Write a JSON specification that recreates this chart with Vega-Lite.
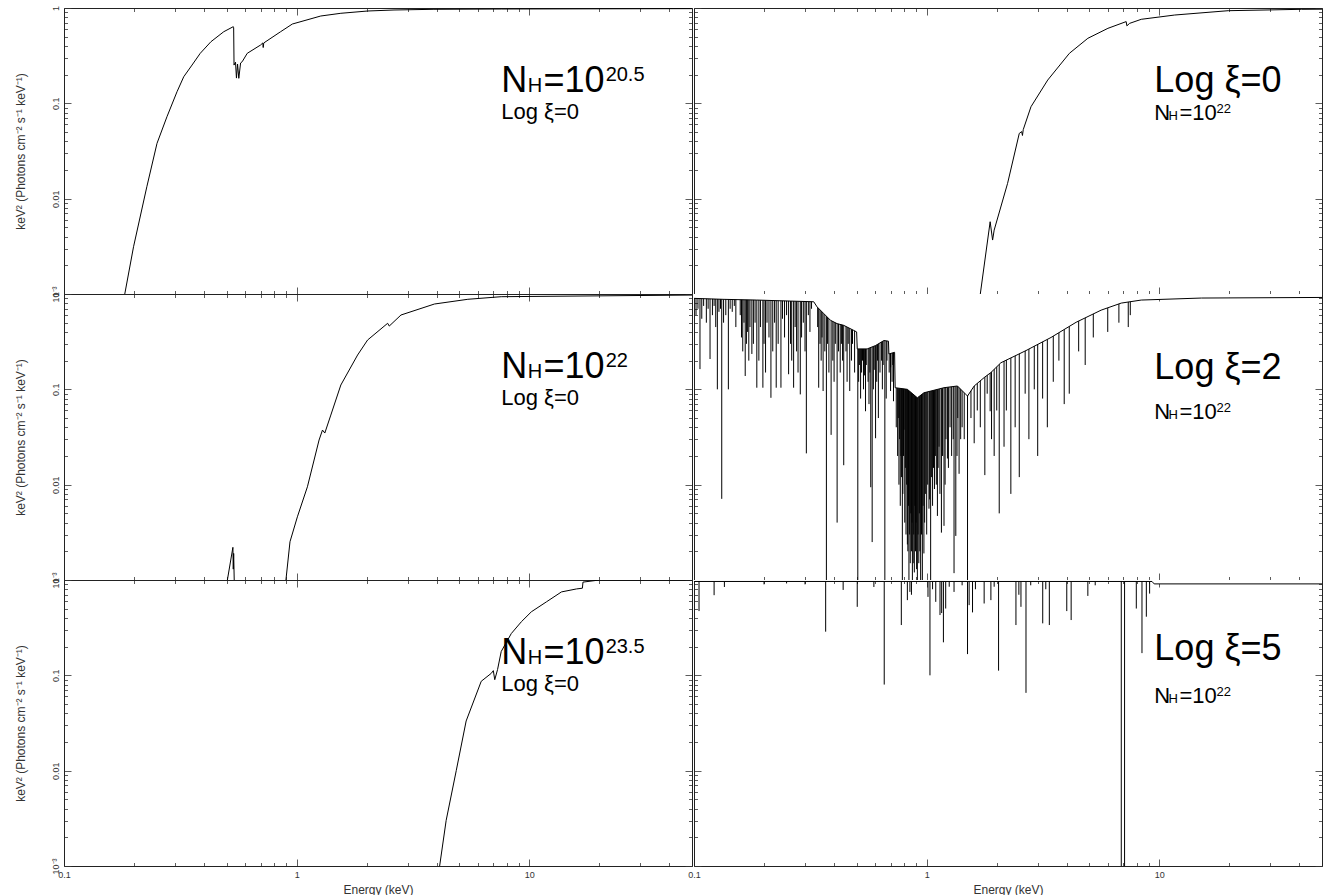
{
  "$schema": "https://vega.github.io/schema/vega-lite/v6.json",
  "padding": {"left": 14, "top": 5, "right": 2, "bottom": 0},
  "background": "white",
  "columns": 2,
  "spacing": {"row": 0, "column": 2},
  "bounds": "flush",
  "datasets": {
    "curves": [
      {"p":"A","E":0.181,"F":0.0009},{"p":"A","E":0.199,"F":0.00313},{"p":"A","E":0.227,"F":0.01334},{"p":"A","E":0.251,"F":0.038},
      {"p":"A","E":0.277,"F":0.0724},{"p":"A","E":0.306,"F":0.1324},{"p":"A","E":0.327,"F":0.19},{"p":"A","E":0.355,"F":0.252},
      {"p":"A","E":0.385,"F":0.3346},{"p":"A","E":0.428,"F":0.443},{"p":"A","E":0.486,"F":0.564},{"p":"A","E":0.534,"F":0.637},
      {"p":"A","E":0.536,"F":0.62},{"p":"A","E":0.538,"F":0.252},{"p":"A","E":0.546,"F":0.27},{"p":"A","E":0.551,"F":0.184},
      {"p":"A","E":0.557,"F":0.258},{"p":"A","E":0.564,"F":0.183},{"p":"A","E":0.574,"F":0.265},{"p":"A","E":0.583,"F":0.273},
      {"p":"A","E":0.613,"F":0.3346},{"p":"A","E":0.6995,"F":0.409},{"p":"A","E":0.715,"F":0.43},{"p":"A","E":0.718,"F":0.385},
      {"p":"A","E":0.722,"F":0.43},{"p":"A","E":0.853,"F":0.564},{"p":"A","E":0.958,"F":0.679},{"p":"A","E":1.269,"F":0.824},
      {"p":"A","E":1.548,"F":0.88},{"p":"A","E":2.018,"F":0.93},{"p":"A","E":2.62,"F":0.953},{"p":"A","E":3.89,"F":0.969},
      {"p":"A","E":7.57,"F":0.976},{"p":"A","E":50,"F":0.985},

      {"p":"B","E":1.69,"F":0.0009},{"p":"B","E":1.874,"F":0.00573},{"p":"B","E":1.92,"F":0.00368},{"p":"B","E":1.95,"F":0.00468},
      {"p":"B","E":2.227,"F":0.01447},{"p":"B","E":2.5,"F":0.0484},{"p":"B","E":2.56,"F":0.0505},{"p":"B","E":2.58,"F":0.046},
      {"p":"B","E":2.6,"F":0.053},{"p":"B","E":2.807,"F":0.0921},{"p":"B","E":3.313,"F":0.1755},{"p":"B","E":4.105,"F":0.3346},
      {"p":"B","E":4.928,"F":0.481},{"p":"B","E":6.01,"F":0.612},{"p":"B","E":7.2,"F":0.72},{"p":"B","E":7.25,"F":0.65},
      {"p":"B","E":7.45,"F":0.69},{"p":"B","E":8.36,"F":0.761},{"p":"B","E":11.64,"F":0.844},{"p":"B","E":19.77,"F":0.937},
      {"p":"B","E":40.9,"F":0.969},{"p":"B","E":50,"F":0.972},

      {"p":"C","E":0.5,"F":0.0009},{"p":"C","E":0.532,"F":0.0022},{"p":"C","E":0.534,"F":0.0013},{"p":"C","E":0.536,"F":0.0019},
      {"p":"C","E":0.54,"F":0.0008},{"p":"C","E":0.895,"F":0.0009},{"p":"C","E":0.936,"F":0.00252},{"p":"C","E":1.007,"F":0.0046},
      {"p":"C","E":1.112,"F":0.0095},{"p":"C","E":1.248,"F":0.0294},{"p":"C","E":1.291,"F":0.0374},{"p":"C","E":1.321,"F":0.0348},
      {"p":"C","E":1.402,"F":0.0537},{"p":"C","E":1.548,"F":0.111},{"p":"C","E":1.827,"F":0.229},{"p":"C","E":2.017,"F":0.329},
      {"p":"C","E":2.46,"F":0.493},{"p":"C","E":2.5,"F":0.461},{"p":"C","E":2.807,"F":0.602},{"p":"C","E":3.908,"F":0.785},
      {"p":"C","E":5.44,"F":0.88},{"p":"C","E":7.57,"F":0.937},{"p":"C","E":50,"F":0.975},

      {"p":"D","E":0.1,"F":0.9},{"p":"D","E":0.134,"F":0.879},{"p":"D","E":0.186,"F":0.864},{"p":"D","E":0.259,"F":0.843},
      {"p":"D","E":0.327,"F":0.829},{"p":"D","E":0.338,"F":0.733},{"p":"D","E":0.361,"F":0.624},{"p":"D","E":0.386,"F":0.53},
      {"p":"D","E":0.412,"F":0.489},{"p":"D","E":0.44,"F":0.469},{"p":"D","E":0.486,"F":0.415},{"p":"D","E":0.5,"F":0.4},
      {"p":"D","E":0.503,"F":0.2655},{"p":"D","E":0.555,"F":0.2655},{"p":"D","E":0.603,"F":0.288},{"p":"D","E":0.655,"F":0.325},
      {"p":"D","E":0.685,"F":0.32},{"p":"D","E":0.688,"F":0.235},{"p":"D","E":0.728,"F":0.2446},{"p":"D","E":0.732,"F":0.104},
      {"p":"D","E":0.826,"F":0.1},{"p":"D","E":0.912,"F":0.0815},{"p":"D","E":0.973,"F":0.092},{"p":"D","E":1.187,"F":0.104},
      {"p":"D","E":1.356,"F":0.1084},{"p":"D","E":1.498,"F":0.085},{"p":"D","E":1.6,"F":0.1084},{"p":"D","E":1.766,"F":0.1328},
      {"p":"D","E":1.888,"F":0.15},{"p":"D","E":2.084,"F":0.19},{"p":"D","E":2.672,"F":0.255},{"p":"D","E":3.423,"F":0.35},
      {"p":"D","E":4.387,"F":0.505},{"p":"D","E":5.62,"F":0.677},{"p":"D","E":6.86,"F":0.803},{"p":"D","E":8.36,"F":0.864},
      {"p":"D","E":15.17,"F":0.907},{"p":"D","E":50,"F":0.92},

      {"p":"E","E":4.09,"F":0.0009},{"p":"E","E":4.39,"F":0.00301},{"p":"E","E":4.85,"F":0.01},{"p":"E","E":5.35,"F":0.0332},
      {"p":"E","E":6.21,"F":0.0866},{"p":"E","E":6.86,"F":0.105},{"p":"E","E":7.0,"F":0.112},{"p":"E","E":7.1,"F":0.09},
      {"p":"E","E":7.3,"F":0.115},{"p":"E","E":7.57,"F":0.178},{"p":"E","E":8.36,"F":0.274},{"p":"E","E":9.24,"F":0.365},
      {"p":"E","E":10.2,"F":0.464},{"p":"E","E":11.84,"F":0.59},{"p":"E","E":13.74,"F":0.75},{"p":"E","E":15.95,"F":0.806},
      {"p":"E","E":16.9,"F":0.82},{"p":"E","E":17.0,"F":0.95},{"p":"E","E":20.0,"F":1.0},{"p":"E","E":50,"F":1.0},

      {"p":"F","E":0.1,"F":0.965},{"p":"F","E":9.3,"F":0.965},{"p":"F","E":9.5,"F":0.91},{"p":"F","E":50,"F":0.91}
    ],
    "lines": [
      {"p":"D","E":0.1061,"lo":0.163},{"p":"D","E":0.1172,"lo":0.208},{"p":"D","E":0.126,"lo":0.1},{"p":"D","E":0.1316,"lo":0.0071},
      {"p":"D","E":0.1405,"lo":0.1},{"p":"D","E":0.1513,"lo":0.45},{"p":"D","E":0.166,"lo":0.138},{"p":"D","E":0.1773,"lo":0.235},
      {"p":"D","E":0.1862,"lo":0.104},{"p":"D","E":0.1977,"lo":0.104},{"p":"D","E":0.2141,"lo":0.0815},{"p":"D","E":0.2256,"lo":0.104},
      {"p":"D","E":0.2364,"lo":0.104},{"p":"D","E":0.255,"lo":0.144},{"p":"D","E":0.268,"lo":0.104},{"p":"D","E":0.2863,"lo":0.0885},
      {"p":"D","E":0.304,"lo":0.0213},{"p":"D","E":0.3435,"lo":0.104},{"p":"D","E":0.3588,"lo":0.096},{"p":"D","E":0.3707,"lo":0.0004},
      {"p":"D","E":0.3884,"lo":0.0333},{"p":"D","E":0.4122,"lo":0.004},{"p":"D","E":0.44,"lo":0.016},{"p":"D","E":0.467,"lo":0.096},
      {"p":"D","E":0.5058,"lo":0.0004},{"p":"D","E":0.546,"lo":0.0589},{"p":"D","E":0.575,"lo":0.0094},{"p":"D","E":0.583,"lo":0.0025},
      {"p":"D","E":0.603,"lo":0.0307},{"p":"D","E":0.661,"lo":0.0004},{"p":"D","E":0.6995,"lo":0.096},{"p":"D","E":0.72,"lo":0.075},
      {"p":"D","E":0.786,"lo":0.0004},{"p":"D","E":0.799,"lo":0.0377},{"p":"D","E":0.826,"lo":0.00236},{"p":"D","E":0.839,"lo":0.0004},
      {"p":"D","E":0.868,"lo":0.0004},{"p":"D","E":0.912,"lo":0.0004},{"p":"D","E":0.942,"lo":0.0004},{"p":"D","E":0.958,"lo":0.0004},
      {"p":"D","E":0.973,"lo":0.0019},{"p":"D","E":1.023,"lo":0.0056},{"p":"D","E":1.04,"lo":0.0004},{"p":"D","E":1.112,"lo":0.0047},
      {"p":"D","E":1.157,"lo":0.00314},{"p":"D","E":1.187,"lo":0.0037},{"p":"D","E":1.228,"lo":0.0188},{"p":"D","E":1.311,"lo":0.00118},
      {"p":"D","E":1.334,"lo":0.0029},{"p":"D","E":1.378,"lo":0.013},{"p":"D","E":1.498,"lo":0.0004},{"p":"D","E":1.6,"lo":0.0272},
      {"p":"D","E":1.778,"lo":0.0126},{"p":"D","E":1.874,"lo":0.0589},

      {"p":"D","E":0.102,"lo":0.6},{"p":"D","E":0.104,"lo":0.7},{"p":"D","E":0.108,"lo":0.55},{"p":"D","E":0.11,"lo":0.75},
      {"p":"D","E":0.113,"lo":0.5},{"p":"D","E":0.115,"lo":0.7},{"p":"D","E":0.12,"lo":0.6},{"p":"D","E":0.122,"lo":0.75},
      {"p":"D","E":0.124,"lo":0.45},{"p":"D","E":0.128,"lo":0.65},{"p":"D","E":0.13,"lo":0.7},{"p":"D","E":0.134,"lo":0.5},
      {"p":"D","E":0.137,"lo":0.6},{"p":"D","E":0.143,"lo":0.7},{"p":"D","E":0.146,"lo":0.65},{"p":"D","E":0.149,"lo":0.75},
      {"p":"D","E":0.158,"lo":0.6},{"p":"D","E":0.16,"lo":0.35},{"p":"D","E":0.162,"lo":0.25},{"p":"D","E":0.164,"lo":0.5},
      {"p":"D","E":0.168,"lo":0.3},{"p":"D","E":0.17,"lo":0.4},{"p":"D","E":0.172,"lo":0.2},{"p":"D","E":0.174,"lo":0.45},
      {"p":"D","E":0.18,"lo":0.3},{"p":"D","E":0.183,"lo":0.5},{"p":"D","E":0.19,"lo":0.2},{"p":"D","E":0.193,"lo":0.45},
      {"p":"D","E":0.2,"lo":0.3},{"p":"D","E":0.203,"lo":0.15},{"p":"D","E":0.206,"lo":0.5},{"p":"D","E":0.21,"lo":0.35},
      {"p":"D","E":0.218,"lo":0.25},{"p":"D","E":0.222,"lo":0.5},{"p":"D","E":0.23,"lo":0.3},{"p":"D","E":0.24,"lo":0.55},
      {"p":"D","E":0.245,"lo":0.35},{"p":"D","E":0.25,"lo":0.6},{"p":"D","E":0.26,"lo":0.3},{"p":"D","E":0.263,"lo":0.2},
      {"p":"D","E":0.272,"lo":0.45},{"p":"D","E":0.276,"lo":0.25},{"p":"D","E":0.28,"lo":0.15},{"p":"D","E":0.29,"lo":0.35},
      {"p":"D","E":0.295,"lo":0.5},{"p":"D","E":0.3,"lo":0.25},{"p":"D","E":0.31,"lo":0.6},{"p":"D","E":0.315,"lo":0.4},
      {"p":"D","E":0.32,"lo":0.7},{"p":"D","E":0.34,"lo":0.45},{"p":"D","E":0.348,"lo":0.3},{"p":"D","E":0.352,"lo":0.2},
      {"p":"D","E":0.355,"lo":0.35},{"p":"D","E":0.365,"lo":0.25},{"p":"D","E":0.375,"lo":0.3},{"p":"D","E":0.38,"lo":0.15},
      {"p":"D","E":0.395,"lo":0.2},{"p":"D","E":0.4,"lo":0.12},{"p":"D","E":0.405,"lo":0.3},{"p":"D","E":0.418,"lo":0.25},
      {"p":"D","E":0.425,"lo":0.15},{"p":"D","E":0.43,"lo":0.3},{"p":"D","E":0.435,"lo":0.2},{"p":"D","E":0.45,"lo":0.25},
      {"p":"D","E":0.455,"lo":0.12},{"p":"D","E":0.46,"lo":0.3},{"p":"D","E":0.475,"lo":0.2},{"p":"D","E":0.48,"lo":0.3},
      {"p":"D","E":0.49,"lo":0.15},{"p":"D","E":0.51,"lo":0.12},{"p":"D","E":0.515,"lo":0.18},{"p":"D","E":0.52,"lo":0.08},
      {"p":"D","E":0.525,"lo":0.15},{"p":"D","E":0.53,"lo":0.2},{"p":"D","E":0.535,"lo":0.1},{"p":"D","E":0.54,"lo":0.14},
      {"p":"D","E":0.55,"lo":0.18},{"p":"D","E":0.56,"lo":0.12},{"p":"D","E":0.565,"lo":0.07},{"p":"D","E":0.57,"lo":0.15},
      {"p":"D","E":0.59,"lo":0.1},{"p":"D","E":0.595,"lo":0.16},{"p":"D","E":0.61,"lo":0.12},{"p":"D","E":0.615,"lo":0.2},
      {"p":"D","E":0.62,"lo":0.05},{"p":"D","E":0.63,"lo":0.15},{"p":"D","E":0.64,"lo":0.2},{"p":"D","E":0.645,"lo":0.1},
      {"p":"D","E":0.65,"lo":0.18},{"p":"D","E":0.67,"lo":0.08},{"p":"D","E":0.675,"lo":0.2},{"p":"D","E":0.69,"lo":0.15},
      {"p":"D","E":0.7,"lo":0.17},{"p":"D","E":0.71,"lo":0.12},{"p":"D","E":0.715,"lo":0.18},
      {"p":"D","E":0.74,"lo":0.04},{"p":"D","E":0.75,"lo":0.02},{"p":"D","E":0.755,"lo":0.05},{"p":"D","E":0.76,"lo":0.01},
      {"p":"D","E":0.765,"lo":0.03},{"p":"D","E":0.77,"lo":0.006},{"p":"D","E":0.775,"lo":0.02},{"p":"D","E":0.78,"lo":0.012},
      {"p":"D","E":0.79,"lo":0.008},{"p":"D","E":0.795,"lo":0.02},{"p":"D","E":0.805,"lo":0.004},{"p":"D","E":0.81,"lo":0.015},
      {"p":"D","E":0.815,"lo":0.003},{"p":"D","E":0.82,"lo":0.01},{"p":"D","E":0.83,"lo":0.002},{"p":"D","E":0.835,"lo":0.006},
      {"p":"D","E":0.845,"lo":0.003},{"p":"D","E":0.85,"lo":0.0015},{"p":"D","E":0.855,"lo":0.005},{"p":"D","E":0.86,"lo":0.002},
      {"p":"D","E":0.865,"lo":0.004},{"p":"D","E":0.875,"lo":0.0015},{"p":"D","E":0.88,"lo":0.003},{"p":"D","E":0.885,"lo":0.0012},
      {"p":"D","E":0.89,"lo":0.006},{"p":"D","E":0.895,"lo":0.002},{"p":"D","E":0.9,"lo":0.004},{"p":"D","E":0.905,"lo":0.0013},
      {"p":"D","E":0.918,"lo":0.003},{"p":"D","E":0.925,"lo":0.0015},{"p":"D","E":0.93,"lo":0.005},{"p":"D","E":0.935,"lo":0.002},
      {"p":"D","E":0.95,"lo":0.003},{"p":"D","E":0.965,"lo":0.006},{"p":"D","E":0.98,"lo":0.004},{"p":"D","E":0.99,"lo":0.008},
      {"p":"D","E":1.0,"lo":0.003},{"p":"D","E":1.01,"lo":0.01},{"p":"D","E":1.03,"lo":0.007},{"p":"D","E":1.05,"lo":0.012},
      {"p":"D","E":1.06,"lo":0.006},{"p":"D","E":1.07,"lo":0.015},{"p":"D","E":1.08,"lo":0.009},{"p":"D","E":1.09,"lo":0.02},
      {"p":"D","E":1.1,"lo":0.01},{"p":"D","E":1.12,"lo":0.015},{"p":"D","E":1.13,"lo":0.025},{"p":"D","E":1.14,"lo":0.008},
      {"p":"D","E":1.17,"lo":0.02},{"p":"D","E":1.2,"lo":0.01},{"p":"D","E":1.21,"lo":0.03},{"p":"D","E":1.24,"lo":0.015},
      {"p":"D","E":1.26,"lo":0.04},{"p":"D","E":1.28,"lo":0.02},{"p":"D","E":1.3,"lo":0.03},{"p":"D","E":1.35,"lo":0.02},
      {"p":"D","E":1.36,"lo":0.05},{"p":"D","E":1.4,"lo":0.03},{"p":"D","E":1.42,"lo":0.04},{"p":"D","E":1.45,"lo":0.03},
      {"p":"D","E":1.55,"lo":0.05},{"p":"D","E":1.65,"lo":0.06},{"p":"D","E":1.7,"lo":0.04},{"p":"D","E":1.82,"lo":0.09},
      {"p":"D","E":1.9,"lo":0.03},{"p":"D","E":1.95,"lo":0.02},{"p":"D","E":2.0,"lo":0.06},{"p":"D","E":2.05,"lo":0.005},
      {"p":"D","E":2.15,"lo":0.025},{"p":"D","E":2.2,"lo":0.06},{"p":"D","E":2.3,"lo":0.008},{"p":"D","E":2.4,"lo":0.04},
      {"p":"D","E":2.5,"lo":0.012},{"p":"D","E":2.65,"lo":0.09},{"p":"D","E":2.75,"lo":0.03},{"p":"D","E":2.9,"lo":0.1},
      {"p":"D","E":3.0,"lo":0.02},{"p":"D","E":3.15,"lo":0.08},{"p":"D","E":3.3,"lo":0.04},{"p":"D","E":3.5,"lo":0.12},
      {"p":"D","E":3.7,"lo":0.2},{"p":"D","E":3.9,"lo":0.07},{"p":"D","E":4.1,"lo":0.09},{"p":"D","E":4.5,"lo":0.25},
      {"p":"D","E":4.8,"lo":0.18},{"p":"D","E":5.2,"lo":0.35},{"p":"D","E":6.0,"lo":0.4},{"p":"D","E":6.7,"lo":0.5},
      {"p":"D","E":7.35,"lo":0.45},{"p":"D","E":7.5,"lo":0.6},

      {"p":"F","E":0.1051,"lo":0.472},{"p":"F","E":0.122,"lo":0.693},{"p":"F","E":0.1351,"lo":0.845},{"p":"F","E":0.2,"lo":0.9},
      {"p":"F","E":0.25,"lo":0.92},{"p":"F","E":0.3,"lo":0.9},{"p":"F","E":0.368,"lo":0.287},{"p":"F","E":0.4375,"lo":0.787},
      {"p":"F","E":0.503,"lo":0.523},{"p":"F","E":0.593,"lo":0.845},{"p":"F","E":0.657,"lo":0.08},{"p":"F","E":0.778,"lo":0.337},
      {"p":"F","E":0.826,"lo":0.615},{"p":"F","E":0.847,"lo":0.75},{"p":"F","E":0.86,"lo":0.7},{"p":"F","E":1.013,"lo":0.665},
      {"p":"F","E":1.033,"lo":0.1},{"p":"F","E":1.06,"lo":0.8},{"p":"F","E":1.094,"lo":0.59},{"p":"F","E":1.141,"lo":0.429},
      {"p":"F","E":1.16,"lo":0.45},{"p":"F","E":1.18,"lo":0.222},{"p":"F","E":1.207,"lo":0.502},{"p":"F","E":1.25,"lo":0.85},
      {"p":"F","E":1.311,"lo":0.75},{"p":"F","E":1.42,"lo":0.88},{"p":"F","E":1.498,"lo":0.167},{"p":"F","E":1.522,"lo":0.545},
      {"p":"F","E":1.574,"lo":0.457},{"p":"F","E":1.62,"lo":0.8},{"p":"F","E":1.766,"lo":0.567},{"p":"F","E":1.888,"lo":0.615},
      {"p":"F","E":1.95,"lo":0.85},{"p":"F","E":2.037,"lo":0.112},{"p":"F","E":2.419,"lo":0.337},{"p":"F","E":2.49,"lo":0.7},
      {"p":"F","E":2.542,"lo":0.523},{"p":"F","E":2.672,"lo":0.0655},{"p":"F","E":2.8,"lo":0.88},{"p":"F","E":3.153,"lo":0.351},
      {"p":"F","E":3.25,"lo":0.8},{"p":"F","E":3.366,"lo":0.337},{"p":"F","E":4.0,"lo":0.472},{"p":"F","E":4.177,"lo":0.38},
      {"p":"F","E":4.928,"lo":0.681},{"p":"F","E":5.3,"lo":0.88},{"p":"F","E":6.86,"lo":0.0004},{"p":"F","E":7.087,"lo":0.0004},
      {"p":"F","E":7.96,"lo":0.502},{"p":"F","E":8.42,"lo":0.171},{"p":"F","E":8.79,"lo":0.412},{"p":"F","E":9.08,"lo":0.72}
    ],
    "notes": [
      {"p":"A","E":7.574,"F":0.1315,"t":"N","k":"L"},{"p":"A","E":9.85,"F":0.1315,"t":"H","k":"S"},
      {"p":"A","E":11.49,"F":0.1315,"t":"=10","k":"L"},{"p":"A","E":21.27,"F":0.1715,"t":"20.5","k":"S"},
      {"p":"A","E":7.574,"F":0.0683,"t":"Log ξ=0","k":"M"},
      {"p":"C","E":7.574,"F":0.1315,"t":"N","k":"L"},{"p":"C","E":9.85,"F":0.1315,"t":"H","k":"S"},
      {"p":"C","E":11.49,"F":0.1315,"t":"=10","k":"L"},{"p":"C","E":21.27,"F":0.1715,"t":"22","k":"S"},
      {"p":"C","E":7.574,"F":0.0683,"t":"Log ξ=0","k":"M"},
      {"p":"E","E":7.574,"F":0.1315,"t":"N","k":"L"},{"p":"E","E":9.85,"F":0.1315,"t":"H","k":"S"},
      {"p":"E","E":11.49,"F":0.1315,"t":"=10","k":"L"},{"p":"E","E":21.27,"F":0.1715,"t":"23.5","k":"S"},
      {"p":"E","E":7.574,"F":0.0683,"t":"Log ξ=0","k":"M"},
      {"p":"B","E":9.515,"F":0.1315,"t":"Log ξ=0","k":"L"},{"p":"B","E":9.515,"F":0.0669,"t":"N","k":"M"},
      {"p":"B","E":10.94,"F":0.0669,"t":"H","k":"XS"},{"p":"B","E":12.2,"F":0.0669,"t":"=10","k":"M"},
      {"p":"B","E":17.61,"F":0.0792,"t":"22","k":"XS"},
      {"p":"D","E":9.515,"F":0.1283,"t":"Log ξ=2","k":"L"},{"p":"D","E":9.515,"F":0.0489,"t":"N","k":"M"},
      {"p":"D","E":10.94,"F":0.0489,"t":"H","k":"XS"},{"p":"D","E":12.2,"F":0.0489,"t":"=10","k":"M"},
      {"p":"D","E":17.61,"F":0.0578,"t":"22","k":"XS"},
      {"p":"F","E":9.515,"F":0.1448,"t":"Log ξ=5","k":"L"},{"p":"F","E":9.515,"F":0.0512,"t":"N","k":"M"},
      {"p":"F","E":10.94,"F":0.0512,"t":"H","k":"XS"},{"p":"F","E":12.2,"F":0.0512,"t":"=10","k":"M"},
      {"p":"F","E":17.61,"F":0.0607,"t":"22","k":"XS"}
    ]
  },
  "concat": [
    {
      "width": 628, "height": 286,
      "resolve": {"axis": {"x": "independent", "y": "independent"}},
      "layer": [
        {"data": {"name": "curves"}, "transform": [{"filter": "datum.p === 'A'"}],
         "mark": {"type": "line", "clip": true, "color": "#000", "strokeWidth": 1},
         "encoding": {
           "x": {"field": "E", "type": "quantitative", "scale": {"type": "log", "domain": [0.1, 50], "nice": false}, "axis": {"title": null, "labels": false}},
           "y": {"field": "F", "type": "quantitative", "scale": {"type": "log", "domain": [0.001, 1], "nice": false},
                 "axis": {"title": "keV² (Photons cm⁻² s⁻¹ keV⁻¹)", "labelExpr": "datum.value == 1 ? '1' : datum.value == 0.1 ? '0.1' : datum.value == 0.01 ? '0.01' : datum.value == 0.001 ? '10⁻³' : ''", "labelAngle": 270, "labelAlign": "center", "labelBaseline": "bottom", "titlePadding": 20}}}},
        {"data": {"name": "notes"}, "transform": [{"filter": "datum.p === 'A'"}],
         "mark": {"type": "text", "align": "left", "baseline": "alphabetic", "font": "Liberation Sans", "color": "#000"},
         "encoding": {
           "x": {"field": "E", "type": "quantitative", "scale": {"type": "log", "domain": [0.1, 50], "nice": false}, "axis": {"orient": "top", "title": null, "labels": false}},
           "y": {"field": "F", "type": "quantitative", "scale": {"type": "log", "domain": [0.001, 1], "nice": false}, "axis": {"orient": "right", "title": null, "labels": false}},
           "text": {"field": "t"},
           "size": {"field": "k", "type": "ordinal", "scale": {"type": "ordinal", "domain": ["L", "M", "S", "XS"], "range": [36, 22, 20, 13]}, "legend": null}}}
      ]
    },
    {
      "width": 628, "height": 286,
      "resolve": {"axis": {"x": "independent", "y": "independent"}},
      "layer": [
        {"data": {"name": "curves"}, "transform": [{"filter": "datum.p === 'B'"}],
         "mark": {"type": "line", "clip": true, "color": "#000", "strokeWidth": 1},
         "encoding": {
           "x": {"field": "E", "type": "quantitative", "scale": {"type": "log", "domain": [0.1, 50], "nice": false}, "axis": {"title": null, "labels": false}},
           "y": {"field": "F", "type": "quantitative", "scale": {"type": "log", "domain": [0.001, 1], "nice": false}, "axis": {"title": null, "labels": false}}}},
        {"data": {"name": "notes"}, "transform": [{"filter": "datum.p === 'B'"}],
         "mark": {"type": "text", "align": "left", "baseline": "alphabetic", "font": "Liberation Sans", "color": "#000"},
         "encoding": {
           "x": {"field": "E", "type": "quantitative", "scale": {"type": "log", "domain": [0.1, 50], "nice": false}, "axis": {"orient": "top", "title": null, "labels": false}},
           "y": {"field": "F", "type": "quantitative", "scale": {"type": "log", "domain": [0.001, 1], "nice": false}, "axis": {"orient": "right", "title": null, "labels": false}},
           "text": {"field": "t"},
           "size": {"field": "k", "type": "ordinal", "scale": {"type": "ordinal", "domain": ["L", "M", "S", "XS"], "range": [36, 22, 20, 13]}, "legend": null}}}
      ]
    },
    {
      "width": 628, "height": 286,
      "resolve": {"axis": {"x": "independent", "y": "independent"}},
      "layer": [
        {"data": {"name": "curves"}, "transform": [{"filter": "datum.p === 'C'"}],
         "mark": {"type": "line", "clip": true, "color": "#000", "strokeWidth": 1},
         "encoding": {
           "x": {"field": "E", "type": "quantitative", "scale": {"type": "log", "domain": [0.1, 50], "nice": false}, "axis": {"title": null, "labels": false}},
           "y": {"field": "F", "type": "quantitative", "scale": {"type": "log", "domain": [0.001, 1], "nice": false},
                 "axis": {"title": "keV² (Photons cm⁻² s⁻¹ keV⁻¹)", "labelExpr": "datum.value == 1 ? '1' : datum.value == 0.1 ? '0.1' : datum.value == 0.01 ? '0.01' : datum.value == 0.001 ? '10⁻³' : ''", "labelAngle": 270, "labelAlign": "center", "labelBaseline": "bottom", "titlePadding": 20}}}},
        {"data": {"name": "notes"}, "transform": [{"filter": "datum.p === 'C'"}],
         "mark": {"type": "text", "align": "left", "baseline": "alphabetic", "font": "Liberation Sans", "color": "#000"},
         "encoding": {
           "x": {"field": "E", "type": "quantitative", "scale": {"type": "log", "domain": [0.1, 50], "nice": false}, "axis": {"orient": "top", "title": null, "labels": false}},
           "y": {"field": "F", "type": "quantitative", "scale": {"type": "log", "domain": [0.001, 1], "nice": false}, "axis": {"orient": "right", "title": null, "labels": false}},
           "text": {"field": "t"},
           "size": {"field": "k", "type": "ordinal", "scale": {"type": "ordinal", "domain": ["L", "M", "S", "XS"], "range": [36, 22, 20, 13]}, "legend": null}}}
      ]
    },
    {
      "width": 628, "height": 286,
      "resolve": {"axis": {"x": "independent", "y": "independent"}},
      "layer": [
        {"data": {"name": "lines"}, "transform": [{"filter": "datum.p === 'D'"}],
         "mark": {"type": "rule", "clip": true, "color": "#000", "strokeWidth": 1},
         "encoding": {
           "x": {"field": "E", "type": "quantitative", "scale": {"type": "log", "domain": [0.1, 50], "nice": false}, "axis": null},
           "y": {"field": "lo", "type": "quantitative", "scale": {"type": "log", "domain": [0.001, 1], "nice": false}, "axis": null},
           "y2": {"datum": 1}}},
        {"data": {"name": "curves"}, "transform": [{"filter": "datum.p === 'D'"}],
         "mark": {"type": "area", "clip": true, "color": "white", "opacity": 1},
         "encoding": {
           "x": {"field": "E", "type": "quantitative", "scale": {"type": "log", "domain": [0.1, 50], "nice": false}, "axis": null},
           "y": {"field": "F", "type": "quantitative", "scale": {"type": "log", "domain": [0.001, 1], "nice": false}, "axis": null},
           "y2": {"datum": 1}}},
        {"data": {"name": "curves"}, "transform": [{"filter": "datum.p === 'D'"}],
         "mark": {"type": "line", "clip": true, "color": "#000", "strokeWidth": 1},
         "encoding": {
           "x": {"field": "E", "type": "quantitative", "scale": {"type": "log", "domain": [0.1, 50], "nice": false}, "axis": {"title": null, "labels": false}},
           "y": {"field": "F", "type": "quantitative", "scale": {"type": "log", "domain": [0.001, 1], "nice": false}, "axis": {"title": null, "labels": false}}}},
        {"data": {"name": "notes"}, "transform": [{"filter": "datum.p === 'D'"}],
         "mark": {"type": "text", "align": "left", "baseline": "alphabetic", "font": "Liberation Sans", "color": "#000"},
         "encoding": {
           "x": {"field": "E", "type": "quantitative", "scale": {"type": "log", "domain": [0.1, 50], "nice": false}, "axis": {"orient": "top", "title": null, "labels": false}},
           "y": {"field": "F", "type": "quantitative", "scale": {"type": "log", "domain": [0.001, 1], "nice": false}, "axis": {"orient": "right", "title": null, "labels": false}},
           "text": {"field": "t"},
           "size": {"field": "k", "type": "ordinal", "scale": {"type": "ordinal", "domain": ["L", "M", "S", "XS"], "range": [36, 22, 20, 13]}, "legend": null}}}
      ]
    },
    {
      "width": 628, "height": 286,
      "resolve": {"axis": {"x": "independent", "y": "independent"}},
      "layer": [
        {"data": {"name": "curves"}, "transform": [{"filter": "datum.p === 'E'"}],
         "mark": {"type": "line", "clip": true, "color": "#000", "strokeWidth": 1},
         "encoding": {
           "x": {"field": "E", "type": "quantitative", "scale": {"type": "log", "domain": [0.1, 50], "nice": false},
                 "axis": {"title": "Energy (keV)", "labelExpr": "datum.value == 0.1 ? '0.1' : datum.value == 1 ? '1' : datum.value == 10 ? '10' : ''", "titlePadding": 2}},
           "y": {"field": "F", "type": "quantitative", "scale": {"type": "log", "domain": [0.001, 1], "nice": false},
                 "axis": {"title": "keV² (Photons cm⁻² s⁻¹ keV⁻¹)", "labelExpr": "datum.value == 1 ? '1' : datum.value == 0.1 ? '0.1' : datum.value == 0.01 ? '0.01' : datum.value == 0.001 ? '10⁻³' : ''", "labelAngle": 270, "labelAlign": "center", "labelBaseline": "bottom", "titlePadding": 20}}}},
        {"data": {"name": "notes"}, "transform": [{"filter": "datum.p === 'E'"}],
         "mark": {"type": "text", "align": "left", "baseline": "alphabetic", "font": "Liberation Sans", "color": "#000"},
         "encoding": {
           "x": {"field": "E", "type": "quantitative", "scale": {"type": "log", "domain": [0.1, 50], "nice": false}, "axis": {"orient": "top", "title": null, "labels": false}},
           "y": {"field": "F", "type": "quantitative", "scale": {"type": "log", "domain": [0.001, 1], "nice": false}, "axis": {"orient": "right", "title": null, "labels": false}},
           "text": {"field": "t"},
           "size": {"field": "k", "type": "ordinal", "scale": {"type": "ordinal", "domain": ["L", "M", "S", "XS"], "range": [36, 22, 20, 13]}, "legend": null}}}
      ]
    },
    {
      "width": 628, "height": 286,
      "resolve": {"axis": {"x": "independent", "y": "independent"}},
      "layer": [
        {"data": {"name": "lines"}, "transform": [{"filter": "datum.p === 'F'"}],
         "mark": {"type": "rule", "clip": true, "color": "#000", "strokeWidth": 1},
         "encoding": {
           "x": {"field": "E", "type": "quantitative", "scale": {"type": "log", "domain": [0.1, 50], "nice": false}, "axis": null},
           "y": {"field": "lo", "type": "quantitative", "scale": {"type": "log", "domain": [0.001, 1], "nice": false}, "axis": null},
           "y2": {"datum": 1}}},
        {"data": {"name": "curves"}, "transform": [{"filter": "datum.p === 'F'"}],
         "mark": {"type": "area", "clip": true, "color": "white", "opacity": 1},
         "encoding": {
           "x": {"field": "E", "type": "quantitative", "scale": {"type": "log", "domain": [0.1, 50], "nice": false}, "axis": null},
           "y": {"field": "F", "type": "quantitative", "scale": {"type": "log", "domain": [0.001, 1], "nice": false}, "axis": null},
           "y2": {"datum": 1}}},
        {"data": {"name": "curves"}, "transform": [{"filter": "datum.p === 'F'"}],
         "mark": {"type": "line", "clip": true, "color": "#000", "strokeWidth": 1},
         "encoding": {
           "x": {"field": "E", "type": "quantitative", "scale": {"type": "log", "domain": [0.1, 50], "nice": false},
                 "axis": {"title": "Energy (keV)", "labelExpr": "datum.value == 0.1 ? '0.1' : datum.value == 1 ? '1' : datum.value == 10 ? '10' : ''", "titlePadding": 2}},
           "y": {"field": "F", "type": "quantitative", "scale": {"type": "log", "domain": [0.001, 1], "nice": false}, "axis": {"title": null, "labels": false}}}},
        {"data": {"name": "notes"}, "transform": [{"filter": "datum.p === 'F'"}],
         "mark": {"type": "text", "align": "left", "baseline": "alphabetic", "font": "Liberation Sans", "color": "#000"},
         "encoding": {
           "x": {"field": "E", "type": "quantitative", "scale": {"type": "log", "domain": [0.1, 50], "nice": false}, "axis": {"orient": "top", "title": null, "labels": false}},
           "y": {"field": "F", "type": "quantitative", "scale": {"type": "log", "domain": [0.001, 1], "nice": false}, "axis": {"orient": "right", "title": null, "labels": false}},
           "text": {"field": "t"},
           "size": {"field": "k", "type": "ordinal", "scale": {"type": "ordinal", "domain": ["L", "M", "S", "XS"], "range": [36, 22, 20, 13]}, "legend": null}}}
      ]
    }
  ],
  "config": {
    "font": "Liberation Sans",
    "view": {"stroke": null},
    "axis": {
      "zindex": 1,
      "grid": false,
      "domain": true,
      "domainColor": "#222",
      "domainWidth": 1,
      "tickColor": "#333",
      "tickWidth": 0.8,
      "tickSize": {"condition": {"test": "abs(log(datum.value) / LN10 - round(log(datum.value) / LN10)) < 0.001", "value": -7}, "value": -3.5},
      "labelFont": "Liberation Sans",
      "labelFontSize": 9,
      "labelColor": "#333",
      "labelOverlap": false,
      "labelFlush": false,
      "labelPadding": 11,
      "titleFont": "Liberation Sans",
      "titleFontSize": 12,
      "titleFontWeight": "normal",
      "titleColor": "#333"
    }
  }
}
